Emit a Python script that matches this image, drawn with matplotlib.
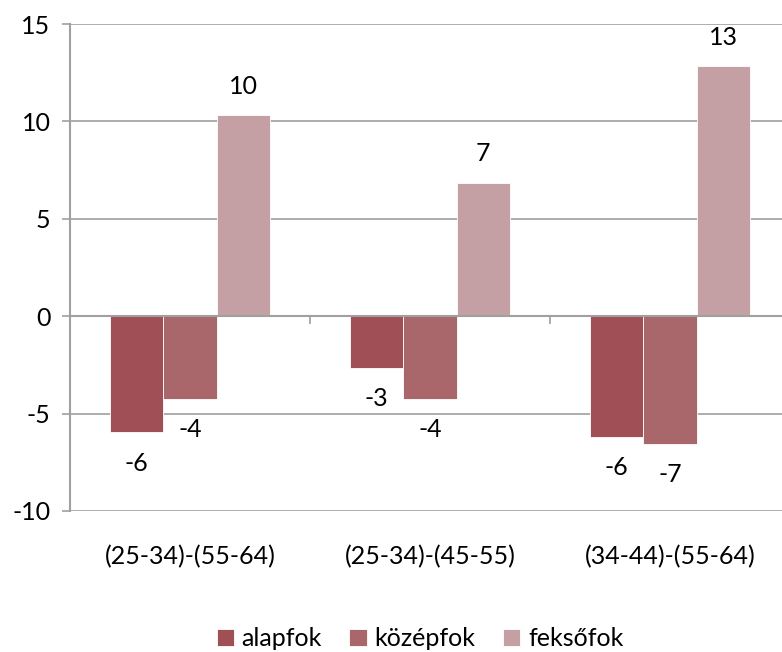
import numpy as np
import matplotlib.pyplot as plt
from matplotlib.transforms import blended_transform_factory

plt.rcParams['font.family'] = ['Lato', 'DejaVu Sans']
plt.rcParams['axes.unicode_minus'] = False

categories = ["(25-34)-(55-64)", "(25-34)-(45-55)", "(34-44)-(55-64)"]
series_names = ["alapfok", "középfok", "feksőfok"]
alapfok = [-5.97, -2.65, -6.19]
kozepfok = [-4.24, -4.24, -6.55]
feksofok = [10.32, 6.86, 12.83]
colors = ["#A14F56", "#A9676B", "#C4A0A4"]

fig = plt.figure(figsize=(7.82, 6.52), dpi=100)
ax = fig.add_axes([70 / 782, 1 - 511 / 652, 720 / 782, 487 / 652])

x = np.arange(len(categories))
width = 0.222
grid_col = "#A0A0A0"
fs = 18

for i, (vals, name) in enumerate(zip([alapfok, kozepfok, feksofok], series_names)):
    pos = x + (i - 1) * width
    ax.bar(pos, vals, width, color=colors[i], label=name,
           edgecolor="white", linewidth=0.6, zorder=3)
    for xp, v in zip(pos, vals):
        off = 29 if v > 0 else -31
        ax.annotate(f"{round(v):d}", (xp, v), xytext=(0, off * 0.72),
                    textcoords="offset points", ha="center", va="center",
                    fontsize=fs, color="black")

ax.set_xlim(-0.5, 2.5)
ax.set_ylim(-10, 15)
ax.set_yticks([-10, -5, 0, 5, 10, 15])
ax.yaxis.grid(True, color=grid_col, linewidth=1.2, zorder=0)
ax.set_axisbelow(True)

ax.spines["top"].set_visible(False)
ax.spines["right"].set_visible(False)
ax.spines["left"].set_color(grid_col)
ax.spines["left"].set_linewidth(1.5)
ax.spines["bottom"].set_position(("data", 0))
ax.spines["bottom"].set_color(grid_col)
ax.spines["bottom"].set_linewidth(1.5)
ax.spines["bottom"].set_zorder(4)

ax.set_xticks([0.5, 1.5])
ax.set_xticklabels([])
ax.tick_params(axis="x", direction="out", length=6, width=1.2, color=grid_col)
ax.tick_params(axis="y", direction="out", length=6, width=1.2, color=grid_col,
               pad=8, labelsize=fs)

trans = blended_transform_factory(ax.transData, ax.transAxes)
for xc, cat in zip(x, categories):
    ax.text(xc, -46 / 487, cat, transform=trans, ha="center", va="center",
            fontsize=fs)

fig.legend(loc="center", bbox_to_anchor=(0.537, 0.02), ncol=3, frameon=False,
           fontsize=fs, handlelength=0.7, handleheight=0.7, handletextpad=0.3,
           columnspacing=1.1)

plt.savefig("out.png", dpi=100)
